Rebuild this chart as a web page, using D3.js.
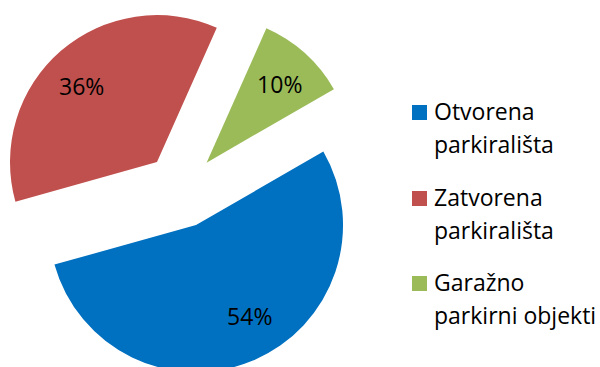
<!DOCTYPE html>
<html>
<head>
<meta charset="utf-8">
<script src="https://cdn.jsdelivr.net/npm/d3@7"></script>
<style>
  html, body { margin: 0; padding: 0; background: #fff; }
  svg { display: block; }
</style>
</head>
<body>
<svg id="chart" width="600" height="367"></svg>
<script>
// Share of parking space by type
const categories = ["Otvorena parkirališta", "Zatvorena parkirališta", "Garažno parkirni objekti"];
const legendLines = [["Otvorena", "parkirališta"], ["Zatvorena", "parkirališta"], ["Garažno", "parkirni objekti"]];
const values = [54, 36, 10];
const colors = ["#0070C0", "#C0504D", "#9BBB59"];

const svg = d3.select("#chart");
const font = "'Open Sans', 'DejaVu Sans', sans-serif";

const cx = 181.5, cy = 190.5;
const radius = 147;
const explode = 37.5;
const firstAngle = 60 * Math.PI / 180;

const total = d3.sum(values);
const pie = d3.pie().sort(null).value(d => d)
  .startAngle(firstAngle).endAngle(firstAngle + 2 * Math.PI);
const arcs = pie(values);
const arc = d3.arc().innerRadius(0).outerRadius(radius);

// label placement: distance from slice tip and small angular shift (degrees)
const labelRadius = 106.5;
const labelShift = [-7.5, -4.2, 1.4];
const labelSize = 23;

const g = svg.append("g").attr("transform", `translate(${cx},${cy})`);

const slice = g.selectAll("g.slice").data(arcs).join("g")
  .attr("class", "slice")
  .attr("transform", d => {
    const mid = (d.startAngle + d.endAngle) / 2;
    return `translate(${Math.sin(mid) * explode},${-Math.cos(mid) * explode})`;
  });

slice.append("path")
  .attr("d", arc)
  .attr("fill", (d, i) => colors[i]);

const labelAngle = (d, i) => (d.startAngle + d.endAngle) / 2 + labelShift[i] * Math.PI / 180;

slice.append("text")
  .attr("x", (d, i) => Math.sin(labelAngle(d, i)) * labelRadius)
  .attr("y", (d, i) => -Math.cos(labelAngle(d, i)) * labelRadius + labelSize * 0.357)
  .attr("text-anchor", "middle")
  .attr("font-family", font)
  .attr("font-size", labelSize)
  .attr("fill", "#000")
  .text(d => Math.round(d.value / total * 100) + "%");

// Legend
const legendX = 412, textX = 434;
const rowBaselines = [120, 206, 291];
const lineGap = 33;

const legend = svg.append("g").selectAll("g").data(categories).join("g");
legend.append("rect")
  .attr("x", legendX)
  .attr("y", (d, i) => rowBaselines[i] - 15)
  .attr("width", 15).attr("height", 15)
  .attr("fill", (d, i) => colors[i]);
legend.each(function (d, i) {
  const t = d3.select(this).append("text")
    .attr("font-family", font)
    .attr("font-size", 23)
    .attr("fill", "#000");
  legendLines[i].forEach((line, j) => {
    t.append("tspan").attr("x", textX).attr("y", rowBaselines[i] + j * lineGap).text(line);
  });
});
</script>
</body>
</html>
